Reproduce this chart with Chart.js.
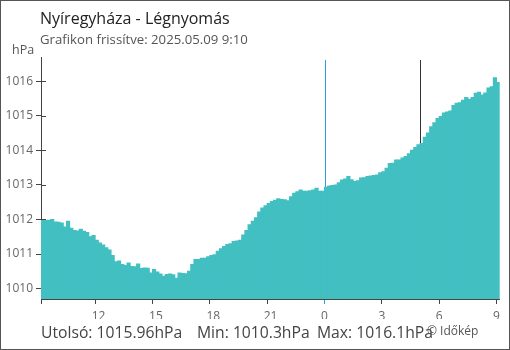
<!DOCTYPE html>
<html>
<head>
<meta charset="utf-8">
<script src="https://cdn.jsdelivr.net/npm/chart.js@4.4.0/dist/chart.umd.min.js"></script>
<style>
  body { margin: 0; background: #fff; font-family: "Open Sans", sans-serif; }
  #wrap { position: relative; width: 510px; height: 350px; overflow: hidden; }
  #frame { position: absolute; left: 0; top: 0; width: 510px; height: 350px; box-sizing: border-box; border: 1px solid #555; pointer-events: none; }
  .t { position: absolute; white-space: nowrap; line-height: 1; }
</style>
</head>
<body>
<div id="wrap">
  <canvas id="pressure-chart" width="510" height="350"></canvas>
  <div class="t" style="left:40px;top:10px;font-size:16px;color:#222">Nyíregyháza - Légnyomás</div>
  <div class="t" style="left:40px;top:33px;font-size:13.2px;color:#555">Grafikon frissítve: 2025.05.09 9:10</div>
  <div class="t" style="left:12px;top:44px;font-size:12.5px;color:#555">hPa</div>
  <div class="t" id="last" style="left:41px;top:325px;font-size:15.7px;color:#444"></div>
  <div class="t" id="min" style="left:197px;top:325px;font-size:15.7px;color:#444"></div>
  <div class="t" id="max" style="left:317px;top:325px;font-size:15.7px;color:#444"></div>
  <div class="t" style="left:427px;top:325px;font-size:12px;color:#555">© Időkép</div>
  <div id="frame"></div>
</div>
<script>
// 10 minute readings, 9:10 -> 9:00 next day (hPa)
const pressure = [
  1011.97, 1011.97, 1011.98, 1012.00, 1011.93, 1011.92, 1011.90, 1011.78, 1011.95, 1011.75,
  1011.68, 1011.67, 1011.72, 1011.66, 1011.62, 1011.50, 1011.54, 1011.40, 1011.32, 1011.26,
  1011.18, 1011.12, 1010.96, 1010.78, 1010.80, 1010.70, 1010.67, 1010.74, 1010.64, 1010.63,
  1010.71, 1010.58, 1010.60, 1010.59, 1010.45, 1010.55, 1010.48, 1010.42, 1010.36, 1010.41,
  1010.42, 1010.40, 1010.30, 1010.45, 1010.44, 1010.43, 1010.50, 1010.70, 1010.84, 1010.84,
  1010.88, 1010.88, 1010.92, 1010.96, 1010.98, 1011.08, 1011.15, 1011.22, 1011.28, 1011.30,
  1011.36, 1011.38, 1011.40, 1011.55, 1011.68, 1011.85, 1011.95, 1012.05, 1012.22, 1012.33,
  1012.40, 1012.46, 1012.52, 1012.56, 1012.60, 1012.58, 1012.57, 1012.54, 1012.66, 1012.76,
  1012.80, 1012.85, 1012.82, 1012.82, 1012.83, 1012.85, 1012.90, 1012.82, 1012.82, 1012.93,
  1012.97, 1012.98, 1013.00, 1013.06, 1013.14, 1013.17, 1013.24, 1013.15, 1013.10, 1013.12,
  1013.20, 1013.21, 1013.24, 1013.26, 1013.27, 1013.29, 1013.35, 1013.38, 1013.48, 1013.62,
  1013.63, 1013.72, 1013.72, 1013.78, 1013.82, 1013.90, 1014.00, 1014.08, 1014.16, 1014.20,
  1014.38, 1014.50, 1014.68, 1014.80, 1014.92, 1014.98, 1015.08, 1015.11, 1015.14, 1015.30,
  1015.36, 1015.38, 1015.45, 1015.53, 1015.48, 1015.53, 1015.65, 1015.68, 1015.60, 1015.66,
  1015.80, 1015.84, 1016.10, 1015.96,
];
const yTicks = [1010, 1011, 1012, 1013, 1014, 1015, 1016];
const tickHours = ["12", "15", "18", "21", "0", "3", "6", "9"];
const markerTimes = ["0:00", "5:00"];
const markerColors = ["#2b9de0", "#333333"];

// category labels: reading times
const times = pressure.map((_, i) => {
  const m = (9 * 60 + 10 + i * 10) % 1440;
  return Math.floor(m / 60) + ":" + String(m % 60).padStart(2, "0");
});

document.getElementById("last").textContent = "Utolsó: " + pressure[pressure.length - 1] + "hPa";
document.getElementById("min").textContent = "Min: " + Math.min(...pressure) + "hPa";
document.getElementById("max").textContent = "Max: " + Math.max(...pressure) + "hPa";

function tickText(i) {
  const t = times[i];
  if (!t || !t.endsWith(":00")) return "";
  const h = t.split(":")[0];
  return tickHours.includes(h) ? h : "";
}

const FONT = "'Open Sans', sans-serif";

// vertical marker lines + inner y tick stubs, drawn behind the bars
const markers = {
  id: "markers",
  beforeDatasetsDraw(chart) {
    const { ctx, chartArea: a, scales: { x, y } } = chart;
    ctx.save();
    ctx.lineWidth = 1;
    ctx.strokeStyle = "#444";
    y.ticks.forEach((t) => {
      const py = Math.round(y.getPixelForValue(t.value)) + 0.5;
      ctx.beginPath();
      ctx.moveTo(a.left, py);
      ctx.lineTo(a.left + 5, py);
      ctx.stroke();
    });
    markerTimes.forEach((mt, k) => {
      const idx = times.indexOf(mt);
      const px = Math.round(x.getPixelForValue(idx - 0.5)) + 0.5;
      ctx.strokeStyle = markerColors[k];
      ctx.beginPath();
      ctx.moveTo(px, a.top + 3);
      ctx.lineTo(px, a.bottom);
      ctx.stroke();
    });
    ctx.restore();
  },
};

new Chart(document.getElementById("pressure-chart"), {
  type: "bar",
  data: {
    labels: times,
    datasets: [
      {
        data: pressure,
        backgroundColor: "#42bfc1",
        borderWidth: 0,
        barPercentage: 1,
        categoryPercentage: 1,
        inflateAmount: 0.5,
      },
    ],
  },
  options: {
    responsive: false,
    animation: false,
    layout: { padding: { left: 0, top: 57, right: 10, bottom: 31 } },
    plugins: { legend: { display: false }, tooltip: { enabled: false } },
    scales: {
      x: {
        afterFit: (s) => { s.height = 20; },
        grid: {
          offset: true,
          drawOnChartArea: false,
          tickLength: 5,
          color: (c) => {
            if (!c.tick) return "rgba(0,0,0,0)";
            if (c.index === 0) return "#444";
            const lbl = tickText(c.index);
            if (!lbl) return "rgba(0,0,0,0)";
            return lbl === "0" ? markerColors[0] : "#444";
          },
        },
        border: { color: "#444" },
        ticks: {
          autoSkip: false,
          maxRotation: 0,
          align: "start",
          labelOffset: -5,
          padding: 5,
          color: "#666",
          font: { family: FONT, size: 12 },
          callback: (v, i) => tickText(i),
        },
      },
      y: {
        min: 1009.7,
        max: 1016.7,
        afterFit: (s) => { s.width = 41; },
        afterBuildTicks: (s) => { s.ticks = yTicks.map((v) => ({ value: v })); },
        grid: { drawOnChartArea: false, tickLength: 5, color: "#444" },
        border: { color: "#444" },
        ticks: {
          padding: 3,
          color: "#666",
          font: { family: FONT, size: 12 },
          callback: (v) => String(v),
        },
      },
    },
  },
  plugins: [markers],
});
</script>
</body>
</html>
